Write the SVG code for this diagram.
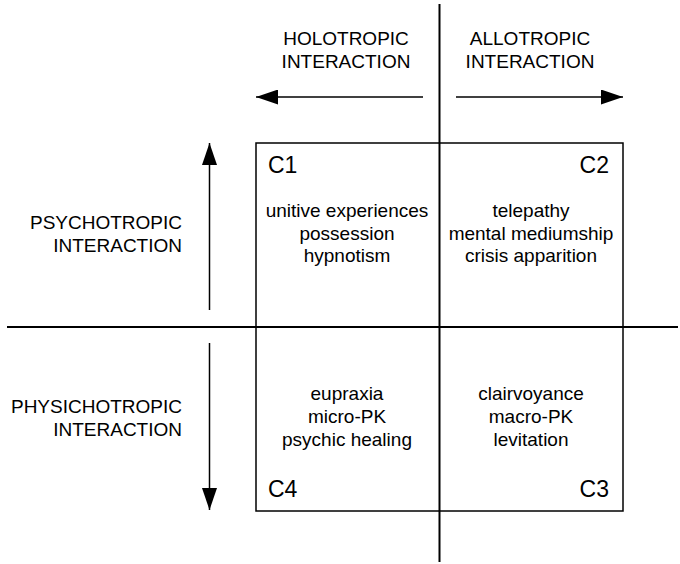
<svg xmlns="http://www.w3.org/2000/svg" width="680" height="564" viewBox="0 0 680 564">
<defs>
<marker id="ah" markerUnits="userSpaceOnUse" markerWidth="23" markerHeight="15" refX="22" refY="7.5" orient="auto">
<path d="M0,0 L22,7.5 L0,15 z" fill="#000"/>
</marker>
<style>
text{font-family:"Liberation Sans",Arial,sans-serif;font-size:19px;fill:#000}
.c{font-size:23px}
.m{text-anchor:middle}
.r{text-anchor:end}
.ax{stroke:#000;stroke-width:2;fill:none}
.ar{stroke:#000;stroke-width:1.5;fill:none;marker-end:url(#ah)}
.bx{stroke:#000;stroke-width:1.5;fill:none}
</style>
</defs>
<rect width="680" height="564" fill="#fff"/>
<g id="connectors">
<line class="ax" x1="439.5" y1="4" x2="439.5" y2="562"/>
<line class="ax" x1="7" y1="327" x2="678" y2="327"/>
<line class="ar" x1="423" y1="97" x2="256" y2="97"/>
<line class="ar" x1="456" y1="97" x2="623" y2="97"/>
<line class="ar" x1="209.5" y1="310" x2="209.5" y2="143"/>
<line class="ar" x1="209.5" y1="343" x2="209.5" y2="510"/>
</g>
<g id="frame">
<rect class="bx" x="256" y="143" width="367" height="368"/>
</g>
<g id="label-holotropic">
<text class="m" x="346" y="45">HOLOTROPIC</text>
<text class="m" x="346" y="68">INTERACTION</text>
</g>
<g id="label-allotropic">
<text class="m" x="530" y="45">ALLOTROPIC</text>
<text class="m" x="530" y="68">INTERACTION</text>
</g>
<g id="label-psychotropic">
<text class="r" x="182" y="229">PSYCHOTROPIC</text>
<text class="r" x="182" y="252">INTERACTION</text>
</g>
<g id="label-physichotropic">
<text class="r" x="182" y="413">PHYSICHOTROPIC</text>
<text class="r" x="182" y="436">INTERACTION</text>
</g>
<g id="C1">
<text class="c" x="268" y="173">C1</text>
<text class="m" x="347" y="217">unitive experiences</text>
<text class="m" x="347" y="240">possession</text>
<text class="m" x="347" y="262">hypnotism</text>
</g>
<g id="C2">
<text class="c r" x="609" y="173">C2</text>
<text class="m" x="531" y="217">telepathy</text>
<text class="m" x="531" y="240">mental mediumship</text>
<text class="m" x="531" y="262">crisis apparition</text>
</g>
<g id="C4">
<text class="c" x="268" y="497">C4</text>
<text class="m" x="347" y="400">eupraxia</text>
<text class="m" x="347" y="423">micro-PK</text>
<text class="m" x="347" y="446">psychic healing</text>
</g>
<g id="C3">
<text class="c r" x="609" y="497">C3</text>
<text class="m" x="531" y="400">clairvoyance</text>
<text class="m" x="531" y="423">macro-PK</text>
<text class="m" x="531" y="446">levitation</text>
</g>
</svg>
